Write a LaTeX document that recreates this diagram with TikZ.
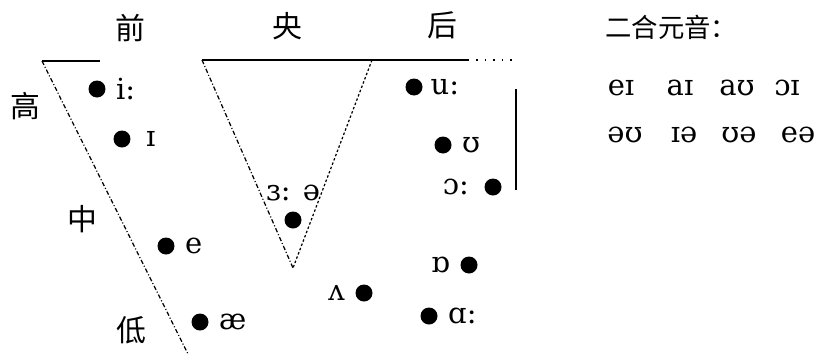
\documentclass[tikz,border=0pt]{standalone}
\usepackage{fontspec}
\setmainfont{DejaVu Serif}
\newfontfamily\cjk{Noto Sans CJK SC}
\usetikzlibrary{positioning}

\begin{document}
\begin{tikzpicture}[
    x=0.02cm, y=-0.02cm,
    node distance=0.2cm,
    vdot/.style={circle, fill=black, inner sep=0pt, minimum size=0.34cm},
    ipa/.style={font=\fontsize{16.5}{16.5}\selectfont, inner sep=0pt},
    hz/.style={font=\cjk\fontsize{17}{17}\selectfont, inner sep=0pt},
    frameline/.style={line width=0.8pt},
    slantline/.style={line width=0.7pt,
                      dash pattern=on 2.5pt off 1.2pt on 0.6pt off 1.2pt},
    dotline/.style={line width=0.7pt, dash pattern=on 1.4pt off 1.2pt},
]
\useasboundingbox (0,0) rectangle (818,359);

% ── Axis labels ──
\node[hz] (front)   at (130,28)  {前};
\node[hz] (central) at (287,26)  {央};
\node[hz] (back)    at (442,25)  {后};
\node[hz] (high)    at (25,106)  {高};
\node[hz] (mid)     at (82,219)  {中};
\node[hz] (low)     at (131,330) {低};

% ── Frame ──
\coordinate (lt) at (42,61);
\coordinate (lr) at (100,61);
\coordinate (lb) at (188,354);
\coordinate (tl) at (202,60);
\coordinate (tr) at (372,60);
\coordinate (te) at (468,60);
\coordinate (tz) at (516,60);
\coordinate (tb) at (293,268);
\coordinate (vt) at (516,89);
\coordinate (vb) at (516,190);

\draw[frameline] (lt) -- (lr);
\draw[slantline] (lt) -- (lb);
\draw[frameline] (tl) -- (te);
\draw[line width=0.8pt, dash pattern=on 0.8pt off 4pt] (te) -- (tz);
\draw[slantline] (tl) -- (tb);
\draw[dotline] (tr) -- (tb);
\draw[frameline] (vt) -- (vb);

% ── Front vowels ──
\node[vdot] (ii) at (97,89) {};
\node[ipa, right=of ii] (iiL) {i:};
\node[vdot] (ih) at (122,139) {};
\node[ipa, right=0.3cm of ih] (ihL) {ɪ};
\node[vdot] (ee) at (166,246) {};
\node[ipa, right=of ee] (eeL) {e};
\node[vdot] (ae) at (200,322) {};
\node[ipa, right=of ae] (aeL) {æ};

% ── Central vowels ──
\node[vdot] (er) at (293,220) {};
\node[ipa, above=0.2cm of er] (erL) {ɜ: ə};
\node[vdot] (uh) at (364,293) {};
\node[ipa, left=of uh] (uhL) {ʌ};

% ── Back vowels ──
\node[vdot] (uu) at (414,87) {};
\node[ipa, right=0.15cm of uu] (uuL) {u:};
\node[vdot] (uo) at (443,145) {};
\node[ipa, right=of uo] (uoL) {ʊ};
\node[vdot] (oo) at (493,187) {};
\node[ipa, left=0.3cm of oo] (ooL) {ɔ:};
\node[vdot] (oh) at (469,265) {};
\node[ipa, left=of oh] (ohL) {ɒ};
\node[vdot] (aa) at (429,316) {};
\node[ipa, right=of aa] (aaL) {ɑ:};

% ── Diphthongs ──
\node[hz, anchor=west, font=\cjk\fontsize{15}{15}\selectfont]
    (diph) at (605,27) {二合元音：};
\node[ipa] (d1) at (621,88)  {eɪ};
\node[ipa] (d2) at (680,88)  {aɪ};
\node[ipa] (d3) at (737,88)  {aʊ};
\node[ipa] (d4) at (787,88)  {ɔɪ};
\node[ipa] (d5) at (625,135) {əʊ};
\node[ipa] (d6) at (684,135) {ɪə};
\node[ipa] (d7) at (739,135) {ʊə};
\node[ipa] (d8) at (798,135) {eə};
\end{tikzpicture}
\end{document}
